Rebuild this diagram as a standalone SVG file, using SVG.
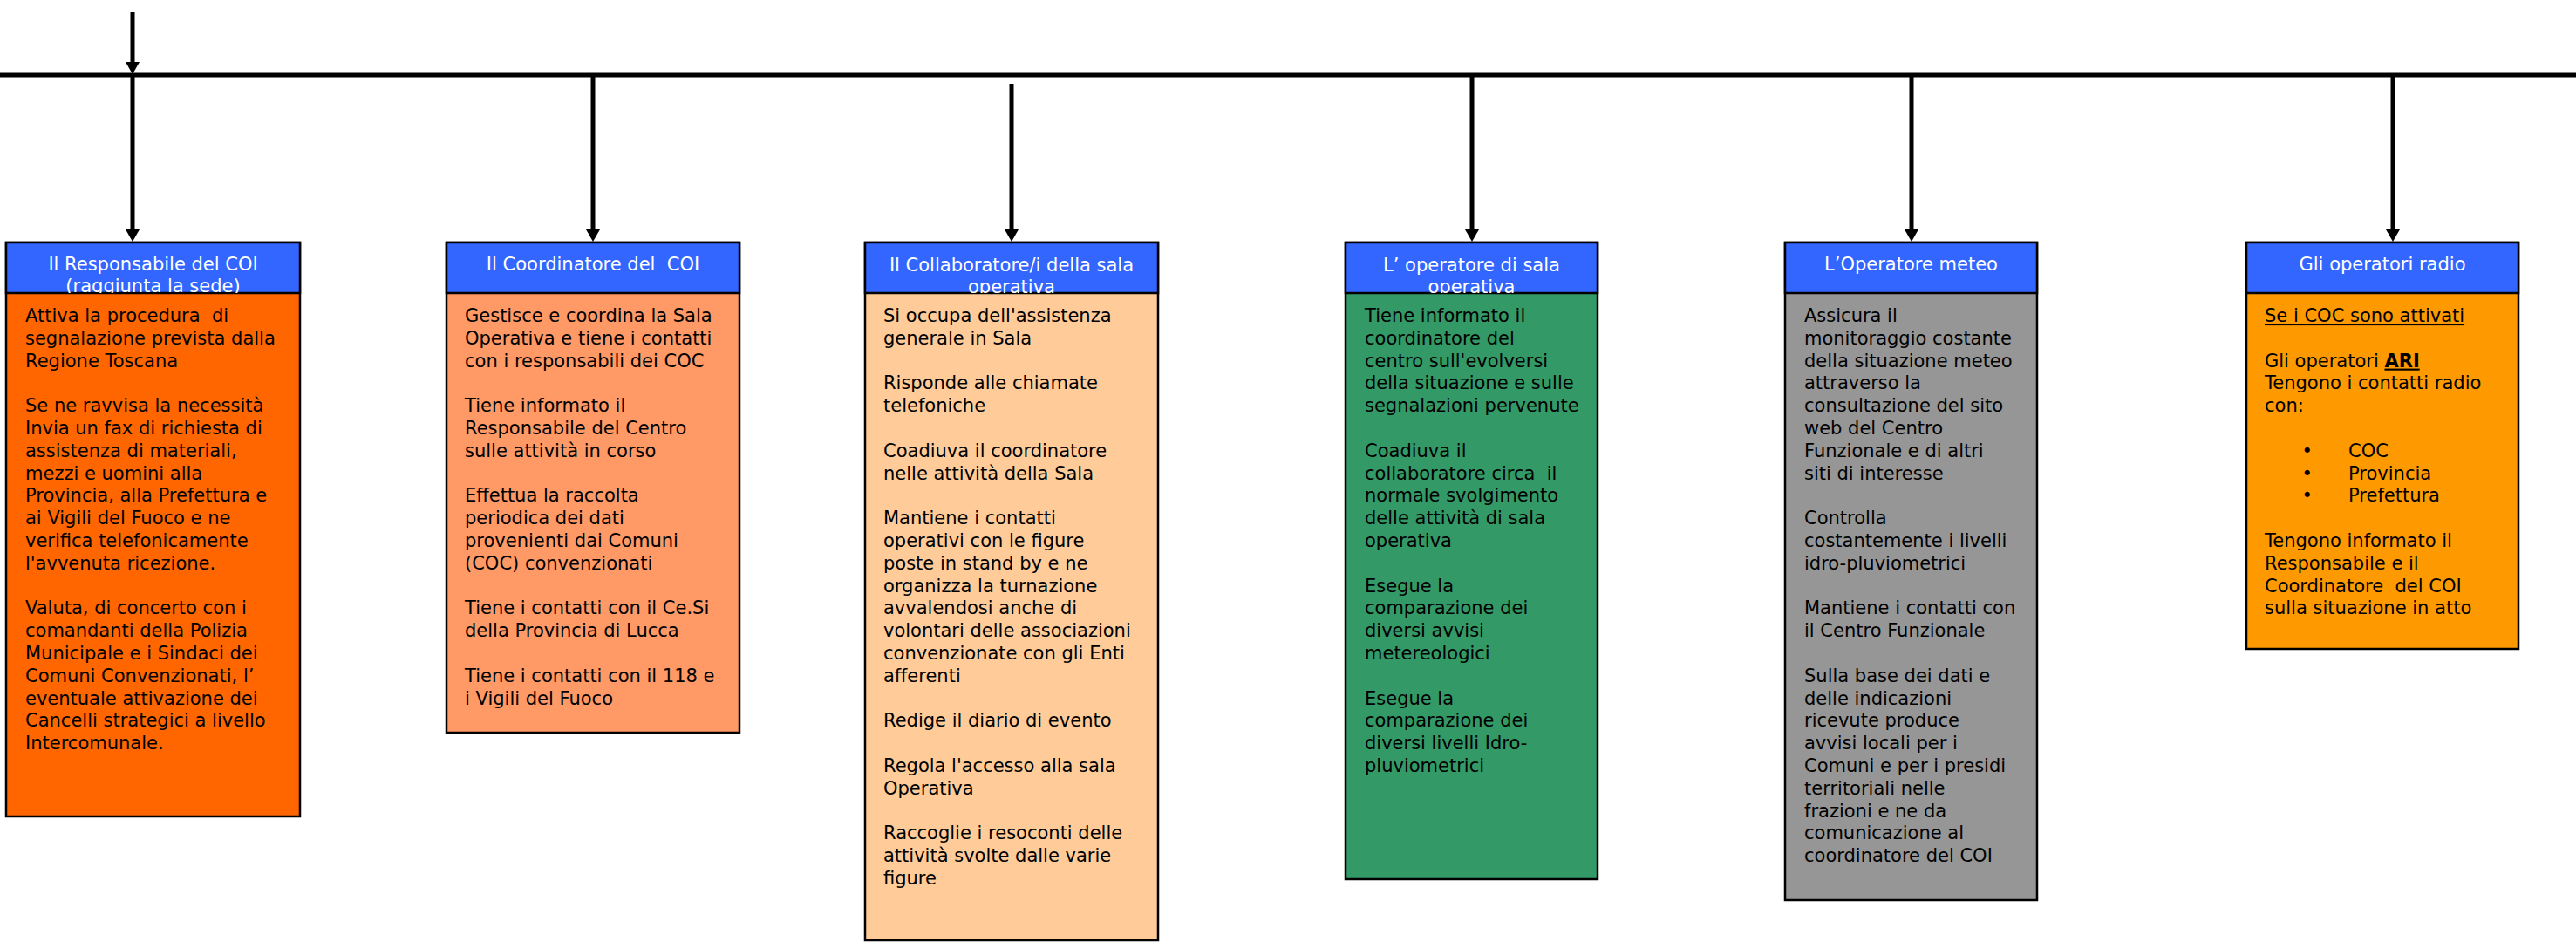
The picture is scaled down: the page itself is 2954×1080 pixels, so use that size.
<svg xmlns="http://www.w3.org/2000/svg" width="2954" height="1080" viewBox="0 0 2954 1080">
<style>
.box{stroke:#000;stroke-width:2.5}
.hd{fill:#3366FF;stroke:#000;stroke-width:2.5}
.ht{font-family:"DejaVu Sans",Verdana,sans-serif;font-size:21px;fill:#fff;text-anchor:middle;white-space:pre}
.bt{font-family:"DejaVu Sans",Verdana,sans-serif;font-size:21px;fill:#000;white-space:pre}
.conn{stroke:#000;stroke-width:5;fill:none}
</style>
<defs>
<marker id="ah" viewBox="0 0 14 16" refX="6" refY="8" markerWidth="14" markerHeight="16" markerUnits="userSpaceOnUse" orient="auto">
<path d="M0,0 L14,8 L0,16 Z" fill="#000"/>
</marker>
<clipPath id="c1"><rect x="7" y="278" width="337" height="58"/></clipPath>
<clipPath id="c3"><rect x="992" y="278" width="336" height="58"/></clipPath>
<clipPath id="c4"><rect x="1543" y="278" width="289" height="58"/></clipPath>
</defs>

<g id="connectors">
<line class="conn" x1="0" y1="86" x2="2954" y2="86"/>
<line class="conn" x1="152" y1="14" x2="152" y2="77" marker-end="url(#ah)"/>
<line class="conn" x1="152" y1="86" x2="152" y2="269" marker-end="url(#ah)"/>
<line class="conn" x1="680" y1="86" x2="680" y2="269" marker-end="url(#ah)"/>
<line class="conn" x1="1160" y1="96" x2="1160" y2="269" marker-end="url(#ah)"/>
<line class="conn" x1="1688" y1="86" x2="1688" y2="269" marker-end="url(#ah)"/>
<line class="conn" x1="2192" y1="86" x2="2192" y2="269" marker-end="url(#ah)"/>
<line class="conn" x1="2744" y1="86" x2="2744" y2="269" marker-end="url(#ah)"/>
</g>

<g id="node-responsabile">
<rect class="box" x="7" y="278" width="337" height="658" fill="#FF6600"/>
<rect class="hd" x="7" y="278" width="337" height="58"/>
<g clip-path="url(#c1)">
<text class="ht" x="175.5" y="310">Il Responsabile del COI</text>
<text class="ht" x="175.5" y="335">(raggiunta la sede)</text>
</g>
<text class="bt">
<tspan x="29" y="369">Attiva la procedura  di</tspan>
<tspan x="29" y="394.8">segnalazione prevista dalla</tspan>
<tspan x="29" y="420.6">Regione Toscana</tspan>
<tspan x="29" y="472.2">Se ne ravvisa la necessità</tspan>
<tspan x="29" y="498">Invia un fax di richiesta di</tspan>
<tspan x="29" y="523.8">assistenza di materiali,</tspan>
<tspan x="29" y="549.6">mezzi e uomini alla</tspan>
<tspan x="29" y="575.4">Provincia, alla Prefettura e</tspan>
<tspan x="29" y="601.2">ai Vigili del Fuoco e ne</tspan>
<tspan x="29" y="627">verifica telefonicamente</tspan>
<tspan x="29" y="652.8">l'avvenuta ricezione.</tspan>
<tspan x="29" y="704.4">Valuta, di concerto con i</tspan>
<tspan x="29" y="730.2">comandanti della Polizia</tspan>
<tspan x="29" y="756">Municipale e i Sindaci dei</tspan>
<tspan x="29" y="781.8">Comuni Convenzionati, l’</tspan>
<tspan x="29" y="807.6">eventuale attivazione dei</tspan>
<tspan x="29" y="833.4">Cancelli strategici a livello</tspan>
<tspan x="29" y="859.2">Intercomunale.</tspan>
</text>
</g>

<g id="node-coordinatore">
<rect class="box" x="512" y="278" width="336" height="562" fill="#FF9966"/>
<rect class="hd" x="512" y="278" width="336" height="58"/>
<text class="ht" x="680" y="310">Il Coordinatore del  COI</text>
<text class="bt">
<tspan x="533" y="369">Gestisce e coordina la Sala</tspan>
<tspan x="533" y="394.8">Operativa e tiene i contatti</tspan>
<tspan x="533" y="420.6">con i responsabili dei COC</tspan>
<tspan x="533" y="472.2">Tiene informato il</tspan>
<tspan x="533" y="498">Responsabile del Centro</tspan>
<tspan x="533" y="523.8">sulle attività in corso</tspan>
<tspan x="533" y="575.4">Effettua la raccolta</tspan>
<tspan x="533" y="601.2">periodica dei dati</tspan>
<tspan x="533" y="627">provenienti dai Comuni</tspan>
<tspan x="533" y="652.8">(COC) convenzionati</tspan>
<tspan x="533" y="704.4">Tiene i contatti con il Ce.Si</tspan>
<tspan x="533" y="730.2">della Provincia di Lucca</tspan>
<tspan x="533" y="781.8">Tiene i contatti con il 118 e</tspan>
<tspan x="533" y="807.6">i Vigili del Fuoco</tspan>
</text>
</g>

<g id="node-collaboratore">
<rect class="box" x="992" y="278" width="336" height="800" fill="#FFCC99"/>
<rect class="hd" x="992" y="278" width="336" height="58"/>
<g clip-path="url(#c3)">
<text class="ht" x="1160" y="311">Il Collaboratore/i della sala</text>
<text class="ht" x="1160" y="336">operativa</text>
</g>
<text class="bt">
<tspan x="1013" y="369">Si occupa dell'assistenza</tspan>
<tspan x="1013" y="394.8">generale in Sala</tspan>
<tspan x="1013" y="446.4">Risponde alle chiamate</tspan>
<tspan x="1013" y="472.2">telefoniche</tspan>
<tspan x="1013" y="523.8">Coadiuva il coordinatore</tspan>
<tspan x="1013" y="549.6">nelle attività della Sala</tspan>
<tspan x="1013" y="601.2">Mantiene i contatti</tspan>
<tspan x="1013" y="627">operativi con le figure</tspan>
<tspan x="1013" y="652.8">poste in stand by e ne</tspan>
<tspan x="1013" y="678.6">organizza la turnazione</tspan>
<tspan x="1013" y="704.4">avvalendosi anche di</tspan>
<tspan x="1013" y="730.2">volontari delle associazioni</tspan>
<tspan x="1013" y="756">convenzionate con gli Enti</tspan>
<tspan x="1013" y="781.8">afferenti</tspan>
<tspan x="1013" y="833.4">Redige il diario di evento</tspan>
<tspan x="1013" y="885">Regola l'accesso alla sala</tspan>
<tspan x="1013" y="910.8">Operativa</tspan>
<tspan x="1013" y="962.4">Raccoglie i resoconti delle</tspan>
<tspan x="1013" y="988.2">attività svolte dalle varie</tspan>
<tspan x="1013" y="1014">figure</tspan>
</text>
</g>

<g id="node-operatore-sala">
<rect class="box" x="1543" y="278" width="289" height="730" fill="#339966"/>
<rect class="hd" x="1543" y="278" width="289" height="58"/>
<g clip-path="url(#c4)">
<text class="ht" x="1687.5" y="311">L’ operatore di sala</text>
<text class="ht" x="1687.5" y="336">operativa</text>
</g>
<text class="bt">
<tspan x="1565" y="369">Tiene informato il</tspan>
<tspan x="1565" y="394.8">coordinatore del</tspan>
<tspan x="1565" y="420.6">centro sull'evolversi</tspan>
<tspan x="1565" y="446.4">della situazione e sulle</tspan>
<tspan x="1565" y="472.2">segnalazioni pervenute</tspan>
<tspan x="1565" y="523.8">Coadiuva il</tspan>
<tspan x="1565" y="549.6">collaboratore circa  il</tspan>
<tspan x="1565" y="575.4">normale svolgimento</tspan>
<tspan x="1565" y="601.2">delle attività di sala</tspan>
<tspan x="1565" y="627">operativa</tspan>
<tspan x="1565" y="678.6">Esegue la</tspan>
<tspan x="1565" y="704.4">comparazione dei</tspan>
<tspan x="1565" y="730.2">diversi avvisi</tspan>
<tspan x="1565" y="756">metereologici</tspan>
<tspan x="1565" y="807.6">Esegue la</tspan>
<tspan x="1565" y="833.4">comparazione dei</tspan>
<tspan x="1565" y="859.2">diversi livelli Idro-</tspan>
<tspan x="1565" y="885">pluviometrici</tspan>
</text>
</g>

<g id="node-meteo">
<rect class="box" x="2047" y="278" width="289" height="754" fill="#969696"/>
<rect class="hd" x="2047" y="278" width="289" height="58"/>
<text class="ht" x="2191.5" y="310">L’Operatore meteo</text>
<text class="bt">
<tspan x="2069" y="369">Assicura il</tspan>
<tspan x="2069" y="394.8">monitoraggio costante</tspan>
<tspan x="2069" y="420.6">della situazione meteo</tspan>
<tspan x="2069" y="446.4">attraverso la</tspan>
<tspan x="2069" y="472.2">consultazione del sito</tspan>
<tspan x="2069" y="498">web del Centro</tspan>
<tspan x="2069" y="523.8">Funzionale e di altri</tspan>
<tspan x="2069" y="549.6">siti di interesse</tspan>
<tspan x="2069" y="601.2">Controlla</tspan>
<tspan x="2069" y="627">costantemente i livelli</tspan>
<tspan x="2069" y="652.8">idro-pluviometrici</tspan>
<tspan x="2069" y="704.4">Mantiene i contatti con</tspan>
<tspan x="2069" y="730.2">il Centro Funzionale</tspan>
<tspan x="2069" y="781.8">Sulla base dei dati e</tspan>
<tspan x="2069" y="807.6">delle indicazioni</tspan>
<tspan x="2069" y="833.4">ricevute produce</tspan>
<tspan x="2069" y="859.2">avvisi locali per i</tspan>
<tspan x="2069" y="885">Comuni e per i presidi</tspan>
<tspan x="2069" y="910.8">territoriali nelle</tspan>
<tspan x="2069" y="936.6">frazioni e ne da</tspan>
<tspan x="2069" y="962.4">comunicazione al</tspan>
<tspan x="2069" y="988.2">coordinatore del COI</tspan>
</text>
</g>

<g id="node-radio">
<rect class="box" x="2576" y="278" width="312" height="466" fill="#FF9900"/>
<rect class="hd" x="2576" y="278" width="312" height="58"/>
<text class="ht" x="2732" y="310">Gli operatori radio</text>
<text class="bt">
<tspan x="2597" y="369" text-decoration="underline">Se i COC sono attivati</tspan>
<tspan x="2597" y="420.6">Gli operatori </tspan><tspan font-weight="bold" text-decoration="underline">ARI</tspan>
<tspan x="2597" y="446.4">Tengono i contatti radio</tspan>
<tspan x="2597" y="472.2">con:</tspan>
<tspan x="2693" y="523.8">COC</tspan>
<tspan x="2693" y="549.6">Provincia</tspan>
<tspan x="2693" y="575.4">Prefettura</tspan>
<tspan x="2597" y="627">Tengono informato il</tspan>
<tspan x="2597" y="652.8">Responsabile e il</tspan>
<tspan x="2597" y="678.6">Coordinatore  del COI</tspan>
<tspan x="2597" y="704.4">sulla situazione in atto</tspan>
</text>
<text class="bt" text-anchor="middle">
<tspan x="2649" y="523.8">•</tspan>
<tspan x="2649" y="549.6">•</tspan>
<tspan x="2649" y="575.4">•</tspan>
</text>
</g>
</svg>
